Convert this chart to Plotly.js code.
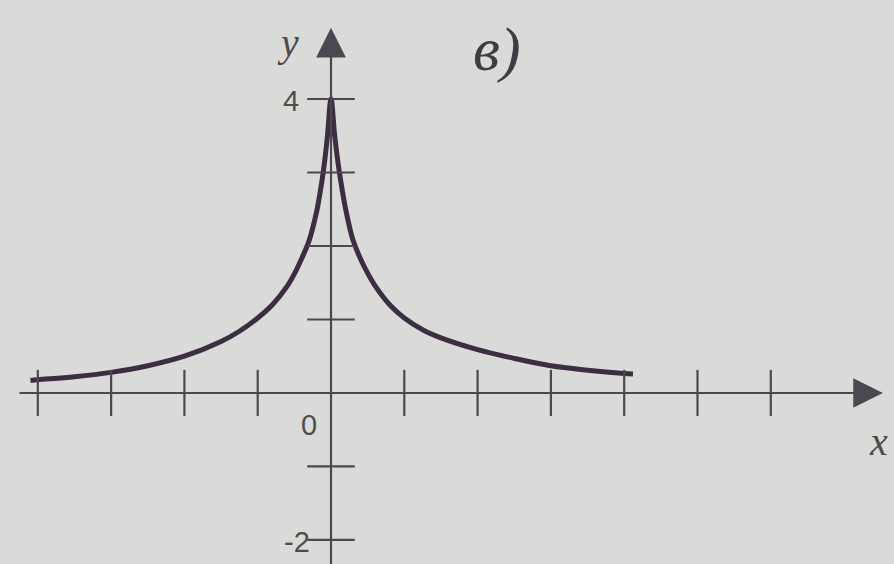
<!DOCTYPE html>
<html>
<head>
<meta charset="utf-8">
<script src="https://cdn.plot.ly/plotly-3.0.1.min.js"></script>
<style>
  html, body { margin: 0; padding: 0; background: #dadad8; }
  #chart { width: 894px; height: 564px; }
</style>
</head>
<body>
<div id="chart"></div>
<script>
// Curve points (x, y) of the graph
const curveX = [-4.1, -4, -3.5, -3, -2.5, -2, -1.5, -1.25, -1, -0.8, -0.6, -0.5, -0.4, -0.3, -0.2, -0.15, -0.1, -0.05, 0,
                0.05, 0.1, 0.15, 0.2, 0.3, 0.4, 0.5, 0.6, 0.8, 1, 1.25, 1.5, 2, 2.5, 3, 3.5, 4, 4.12];
const curveY = [0.17, 0.18, 0.22, 0.28, 0.37, 0.5, 0.7, 0.84, 1.02, 1.2, 1.45, 1.62, 1.83, 2.07, 2.45, 2.72, 3.05, 3.48, 4,
                3.5, 3.1, 2.78, 2.5, 2.08, 1.83, 1.63, 1.46, 1.2, 1.02, 0.86, 0.75, 0.59, 0.47, 0.37, 0.31, 0.265, 0.258];

// Tick marks on the axes
const xTicks = [-4, -3, -2, -1, 1, 2, 3, 4, 5, 6];
const yTicks = [-2, -1, 1, 2, 3, 4];

// Numbered tick labels
const yLabelValues = [4, -2];
const yLabelTexts = ['4', '-2'];
const yLabelGap = [-30, -19];
const originLabel = '0';

// Axis extents (arrow tips) and names
const xAxisFrom = -4.27, xAxisTo = 7.53;
const yAxisFrom = -2.5, yAxisTo = 4.97;
const xName = 'x', yName = 'y', panelName = 'в)';

const ink = '#3b2e40';
const axisInk = '#4a4950';
const labelInk = '#4d4d4f';

const traces = [
  {
    x: curveX, y: curveY, type: 'scatter', mode: 'lines',
    line: { color: ink, width: 5, shape: 'spline', smoothing: 1 },
    hoverinfo: 'skip', cliponaxis: false
  },
  {
    x: xTicks, y: xTicks.map(() => 0), type: 'scatter', mode: 'markers',
    marker: { symbol: 'line-ns', size: 33, line: { color: axisInk, width: 2.2 } },
    hoverinfo: 'skip'
  },
  {
    x: yTicks.map(() => 0), y: yTicks, type: 'scatter', mode: 'markers',
    marker: { symbol: 'line-ew', size: 34, line: { color: axisInk, width: 2.2 } },
    hoverinfo: 'skip'
  }
];

const tickFont = { family: 'Liberation Sans, Arial, sans-serif', size: 29, color: labelInk };
const nameFont = { family: 'Liberation Serif, Times New Roman, serif', size: 40, color: '#4a4a50', style: 'italic' };

const annotations = [
  // axis arrows
  { x: xAxisTo, y: 0, ax: xAxisFrom, ay: 0, xref: 'x', yref: 'y', axref: 'x', ayref: 'y',
    text: '', showarrow: true, arrowhead: 2, arrowsize: 2.7, arrowwidth: 2.2,
    arrowcolor: axisInk, standoff: 0 },
  { x: 0, y: yAxisTo, ax: 0, ay: yAxisFrom, xref: 'x', yref: 'y', axref: 'x', ayref: 'y',
    text: '', showarrow: true, arrowhead: 2, arrowsize: 2.7, arrowwidth: 2.2,
    arrowcolor: axisInk, standoff: 0 }
];

yLabelValues.forEach((v, i) => {
  annotations.push({ x: 0, y: v, xref: 'x', yref: 'y', text: yLabelTexts[i],
    showarrow: false, xanchor: 'right', yanchor: 'middle', xshift: yLabelGap[i], yshift: -2, font: tickFont });
});
annotations.push({ x: 0, y: 0, xref: 'x', yref: 'y', text: originLabel, showarrow: false,
  xanchor: 'right', yanchor: 'top', xshift: -12, yshift: -14, font: tickFont });

// axis names and panel letter
annotations.push({ x: 0, y: yAxisTo, xref: 'x', yref: 'y', text: yName, showarrow: false,
  xanchor: 'right', yanchor: 'middle', xshift: -30, yshift: -15, font: nameFont });
annotations.push({ x: xAxisTo, y: 0, xref: 'x', yref: 'y', text: xName, showarrow: false,
  xanchor: 'center', yanchor: 'top', xshift: -4, yshift: -24, font: nameFont });
annotations.push({ x: 0, y: yAxisTo, xref: 'x', yref: 'y', text: panelName, showarrow: false,
  xanchor: 'left', yanchor: 'middle', xshift: 140, yshift: -22,
  font: { family: 'Liberation Serif, Times New Roman, serif', size: 62, color: '#3d3d44', style: 'italic' } });

const layout = {
  width: 894, height: 564,
  margin: { l: 0, r: 0, t: 0, b: 0, pad: 0 },
  paper_bgcolor: '#dadad8', plot_bgcolor: '#dadad8',
  showlegend: false,
  xaxis: { range: [-4.516, 7.681], visible: false, fixedrange: true },
  yaxis: { range: [-2.327, 5.347], visible: false, fixedrange: true },
  annotations: annotations
};

Plotly.newPlot('chart', traces, layout, { staticPlot: true, displayModeBar: false });
</script>
</body>
</html>
